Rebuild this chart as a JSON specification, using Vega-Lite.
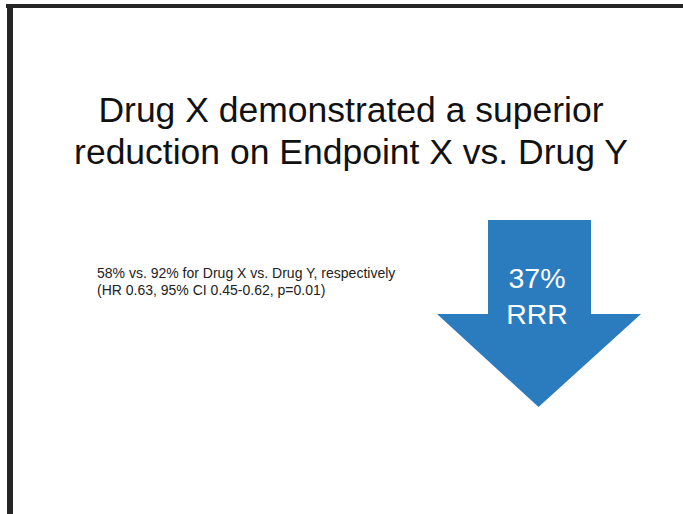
{
  "$schema": "https://vega.github.io/schema/vega-lite/v6.json",
  "width": 683,
  "height": 514,
  "autosize": "none",
  "padding": 0,
  "background": "#ffffff",
  "config": {"view": {"stroke": null}},
  "datasets": {
    "frame": [
      {"part": "top", "x": 6, "x2": 683, "y": 4, "y2": 8},
      {"part": "left", "x": 7, "x2": 13, "y": 4, "y2": 514}
    ],
    "shaft": [
      {"x": 488, "x2": 591, "y": 220, "y2": 315}
    ],
    "head": [
      {"x": 437, "top": 314, "bottom": 314},
      {"x": 538.5, "top": 314, "bottom": 407},
      {"x": 641, "top": 314, "bottom": 314}
    ],
    "titles": [
      {"line": "Drug X demonstrated a superior", "x": 351, "y": 122},
      {"line": "reduction on Endpoint X vs. Drug Y", "x": 351, "y": 164}
    ],
    "notes": [
      {"line": "58% vs. 92% for Drug X vs. Drug Y, respectively", "x": 97, "y": 278},
      {"line": "(HR 0.63, 95% CI 0.45-0.62, p=0.01)", "x": 97, "y": 295}
    ],
    "badge": [
      {"line": "37%", "x": 537, "y": 288},
      {"line": "RRR", "x": 537, "y": 323.5}
    ]
  },
  "layer": [
    {
      "data": {"name": "frame"},
      "mark": {"type": "rect", "color": "#262626"},
      "encoding": {
        "x": {"field": "x", "type": "quantitative", "scale": {"domain": [0, 683], "nice": false, "zero": false}, "axis": null},
        "x2": {"field": "x2"},
        "y": {"field": "y", "type": "quantitative", "scale": {"domain": [0, 514], "nice": false, "zero": false, "reverse": true}, "axis": null},
        "y2": {"field": "y2"}
      }
    },
    {
      "data": {"name": "shaft"},
      "mark": {"type": "rect", "color": "#2b7bbf"},
      "encoding": {
        "x": {"field": "x", "type": "quantitative"},
        "x2": {"field": "x2"},
        "y": {"field": "y", "type": "quantitative"},
        "y2": {"field": "y2"}
      }
    },
    {
      "data": {"name": "head"},
      "mark": {"type": "area", "color": "#2b7bbf", "interpolate": "linear", "opacity": 1},
      "encoding": {
        "x": {"field": "x", "type": "quantitative"},
        "y": {"field": "top", "type": "quantitative", "stack": null},
        "y2": {"field": "bottom"}
      }
    },
    {
      "data": {"name": "titles"},
      "mark": {"type": "text", "font": "Liberation Sans", "fontSize": 35.5, "align": "center", "baseline": "alphabetic", "color": "#111111"},
      "encoding": {
        "x": {"field": "x", "type": "quantitative"},
        "y": {"field": "y", "type": "quantitative"},
        "text": {"field": "line"}
      }
    },
    {
      "data": {"name": "notes"},
      "mark": {"type": "text", "font": "Liberation Sans", "fontSize": 14, "align": "left", "baseline": "alphabetic", "color": "#222222"},
      "encoding": {
        "x": {"field": "x", "type": "quantitative"},
        "y": {"field": "y", "type": "quantitative"},
        "text": {"field": "line"}
      }
    },
    {
      "data": {"name": "badge"},
      "mark": {"type": "text", "font": "Liberation Sans", "fontSize": 28.5, "align": "center", "baseline": "alphabetic", "color": "#ffffff"},
      "encoding": {
        "x": {"field": "x", "type": "quantitative"},
        "y": {"field": "y", "type": "quantitative"},
        "text": {"field": "line"}
      }
    }
  ]
}
